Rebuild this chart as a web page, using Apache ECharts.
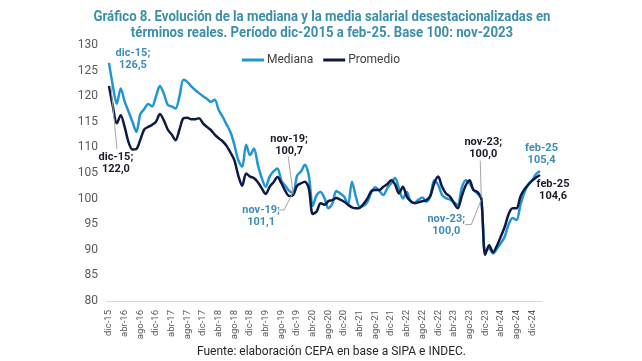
<!DOCTYPE html>
<html><head><meta charset="utf-8">
<script src="https://cdn.jsdelivr.net/npm/echarts@6.0.0/dist/echarts.min.js"></script>
<style>html,body{margin:0;padding:0;background:#fff}#c{width:642px;height:361px}</style>
</head><body><div id="c"></div>
<script>
const categories = [
 'dic-15',
 'ene-16','feb-16','mar-16','abr-16','may-16','jun-16','jul-16','ago-16','sep-16','oct-16','nov-16','dic-16',
 'ene-17','feb-17','mar-17','abr-17','may-17','jun-17','jul-17','ago-17','sep-17','oct-17','nov-17','dic-17',
 'ene-18','feb-18','mar-18','abr-18','may-18','jun-18','jul-18','ago-18','sep-18','oct-18','nov-18','dic-18',
 'ene-19','feb-19','mar-19','abr-19','may-19','jun-19','jul-19','ago-19','sep-19','oct-19','nov-19','dic-19',
 'ene-20','feb-20','mar-20','abr-20','may-20','jun-20','jul-20','ago-20','sep-20','oct-20','nov-20','dic-20',
 'ene-21','feb-21','mar-21','abr-21','may-21','jun-21','jul-21','ago-21','sep-21','oct-21','nov-21','dic-21',
 'ene-22','feb-22','mar-22','abr-22','may-22','jun-22','jul-22','ago-22','sep-22','oct-22','nov-22','dic-22',
 'ene-23','feb-23','mar-23','abr-23','may-23','jun-23','jul-23','ago-23','sep-23','oct-23','nov-23','dic-23',
 'ene-24','feb-24','mar-24','abr-24','may-24','jun-24','jul-24','ago-24','sep-24','oct-24','nov-24','dic-24',
 'ene-25','feb-25'
];
const mediana = [
 126.5,
 122, 118.5, 121.5, 119, 117, 115, 113, 116.5, 117.5, 118.5, 118, 120,
 122, 120.5, 118.3, 118, 117.6, 120, 123.2, 122.8, 121.9, 121.2, 120.6, 120,
 119.5, 118.9, 119.3, 117.3, 116, 114.5, 113, 110.5, 107.5, 106.2, 110.5, 108.5,
 109.8, 106.6, 104, 102.3, 104.3, 105.3, 105.9, 103.5, 102.5, 101.5, 101.1, 104.5,
 105.3, 106.6, 104.5, 98.6, 100.7, 101.3, 100.1, 98.1, 99, 101.5, 101, 100.4,
 98.8, 103.3, 100.4, 98.4, 98.6, 99.4, 101.3, 102.2, 101.5, 100.7, 102, 103,
 104, 102, 100, 101.3, 99.4, 99.2, 99.8, 100.2, 99.4, 100.5, 103.6, 102.7,
 100.7, 100.1, 99.8, 99.3, 98.8, 102, 103.6, 103, 101.7, 101, 100.0, 89.5,
 90.3, 89.3, 90.2, 91.3, 92.6, 95, 96.2, 95.8, 98.8, 101.2, 102.8, 103.6,
 104.8, 105.4
];
const promedio = [
 122.0,
 118, 114.7, 116.3, 114, 111, 109.6, 109.7, 111.5, 113.5, 114, 114.4, 115,
 116.5, 115.3, 113.5, 112.5, 111.4, 113.5, 115.7, 115.8, 115.5, 115.5, 115.7, 114.7,
 114, 113.4, 112.5, 111.8, 111.2, 110.3, 109, 107.5, 104.5, 102.5, 104.9, 104.3,
 104.0, 103.2, 102, 100.9, 102.3, 103.2, 104.2, 103, 101.5, 100.5, 100.7, 102.5,
 103, 103.3, 102, 97, 97.5, 99.1, 98.8, 99.5, 99.7, 100.1, 99.8, 99.4,
 98.8, 98.3, 98.1, 98.2, 99.0, 100.1, 101.5, 101.7, 101.7, 102.3, 102.8, 103.6,
 102.8, 101, 102.3, 100.4, 99.5, 99.1, 99.3, 99.5, 99.7, 100.5, 103, 104.3,
 102.3, 101, 100.4, 99.2, 98.1, 100.4, 102.5, 103.6, 101.7, 101.3, 100.0, 89,
 90.9, 89.5, 90.8, 92.6, 94.5, 97, 98.1, 98.1, 100.4, 101.8, 102.7, 103.5,
 104.1, 104.6
];
const yMin = 80, yMax = 130, yStep = 5;
const seriesNames = ['Mediana', 'Promedio'];
const titleLines = [
 'Gráfico 8. Evolución de la mediana y la media salarial desestacionalizadas en',
 'términos reales. Período dic-2015 a feb-25. Base 100: nov-2023'
];
const sourceText = 'Fuente: elaboración CEPA en base a SIPA e INDEC.';
const annotations = [
 {s:0, i:0,   text:'dic-15;\n126,5', dx:24, dy:-4,  leader:null},
 {s:1, i:0,   text:'dic-15;\n122,0', dx:7,  dy:77,  leader:[[2,0],[8,63]]},
 {s:1, i:47,  text:'nov-19;\n100,7', dx:-4, dy:-50, leader:[[-5,-39],[0,-1]]},
 {s:0, i:47,  text:'nov-19;\n101,1', dx:-32,dy:23,  leader:[[-15,17],[-9,17],[-1,1]]},
 {s:1, i:95,  text:'nov-23;\n100,0', dx:2,  dy:-50, leader:[[-1,-38],[0,-1]]},
 {s:0, i:95,  text:'nov-23;\n100,0', dx:-35,dy:27,  leader:[[-16,26],[-10,26],[0,1]]},
 {s:0, i:110, text:'feb-25\n105,4', dx:1.5,dy:-17, leader:null},
 {s:1, i:110, text:'feb-25\n104,6', dx:13, dy:15,  leader:null}
];
const colors = ['#2196d3', '#0e1a45'];
const labelColors = ['#3d8cb8', '#1a1a2a'];

const chart = echarts.init(document.getElementById('c'), null, {renderer:'canvas'});
const option = {
  backgroundColor:'#ffffff',
  animation:false,
  legend:{
    data:seriesNames, top:49, left:'center', icon:'rect', itemWidth:22, itemHeight:3, itemGap:10,
    textStyle:{fontFamily:'Roboto', fontSize:12, color:'#404040', padding:[0,0,0,-2]}
  },
  grid:{left:107, right:100, top:45, bottom:60},
  xAxis:{
    type:'category', data:categories, boundaryGap:true,
    axisLine:{lineStyle:{color:'#d9d9d9', width:1}},
    axisTick:{show:false},
    axisLabel:{interval:3, rotate:90, margin:9, fontFamily:'Roboto', fontSize:9.5, color:'#595959'}
  },
  yAxis:{
    type:'value', min:yMin, max:yMax, interval:yStep,
    axisLine:{show:false}, axisTick:{show:false}, splitLine:{show:false},
    axisLabel:{margin:9, fontFamily:'Roboto', fontSize:12, color:'#595959'}
  },
  series:[
    {name:seriesNames[0], type:'line', data:mediana, symbol:'none', smooth:0.3,
     lineStyle:{color:colors[0], width:2.5}, itemStyle:{color:colors[0]}, z:2},
    {name:seriesNames[1], type:'line', data:promedio, symbol:'none', smooth:0.3,
     lineStyle:{color:colors[1], width:2.5}, itemStyle:{color:colors[1]}, z:3}
  ]
};
chart.setOption(option);

const seriesData = [mediana, promedio];
const graphics = [];
annotations.forEach(a => {
  const p = chart.convertToPixel({xAxisIndex:0, yAxisIndex:0}, [a.i, seriesData[a.s][a.i]]);
  if (a.leader) {
    graphics.push({type:'polyline', z:10, silent:true,
      shape:{points:a.leader.map(q => [p[0]+q[0], p[1]+q[1]])},
      style:{stroke:'#a6a6a6', lineWidth:1, fill:null}});
  }
  graphics.push({type:'text', z:11, x:p[0]+a.dx, y:p[1]+a.dy,
    style:{text:a.text, fill:labelColors[a.s], font:'bold 11px Roboto', align:'center', verticalAlign:'middle', lineHeight:12}});
});
// title: condensed look via horizontal scaling
const titleFont = 'bold 15px Roboto';
const cv = document.createElement('canvas').getContext('2d');
cv.font = titleFont;
const w1 = cv.measureText(titleLines[0]).width;
const sx = 457 / w1;
const titleY = [17, 33];
titleLines.forEach((t, k) => {
  graphics.push({type:'text', x:322, y:titleY[k], scaleX:sx, scaleY:1,
    style:{text:t, fill:'#3a8fa9', font:titleFont, align:'center', verticalAlign:'middle'}});
});
graphics.push({type:'text', x:197, y:352, style:{text:sourceText, fill:'#262626', font:'12px Roboto', align:'left', verticalAlign:'middle'}});
chart.setOption({graphic:graphics});
</script>
</body></html>
